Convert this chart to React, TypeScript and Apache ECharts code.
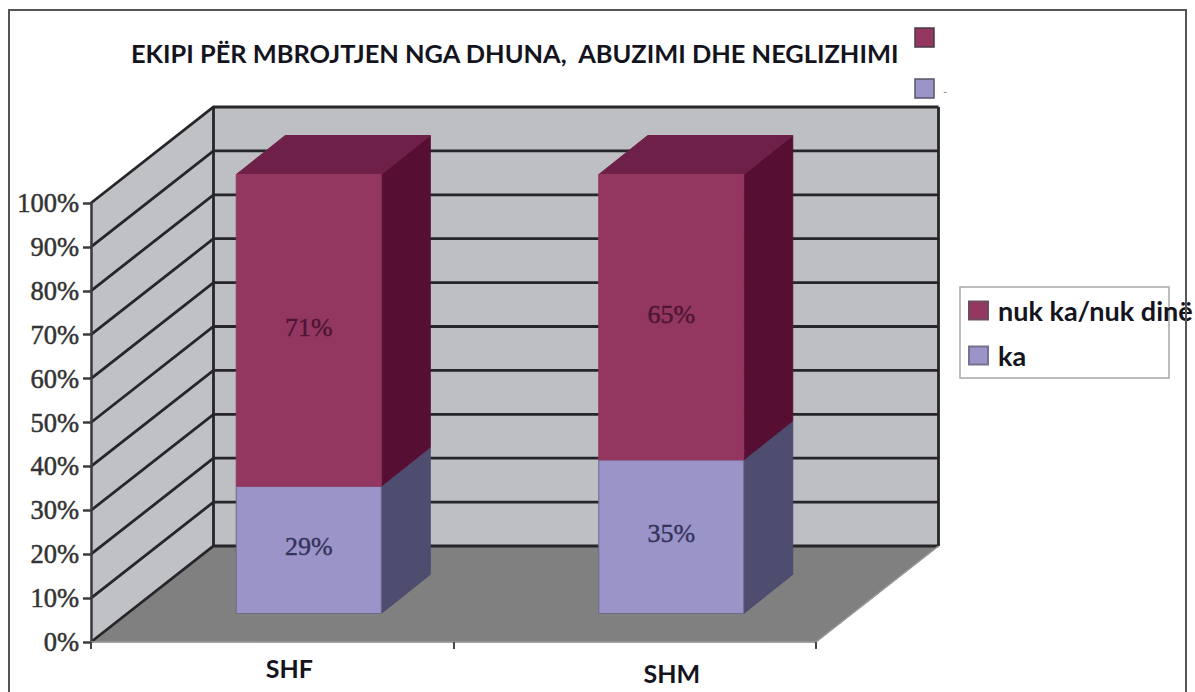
import React, { useEffect, useRef } from "react";
import * as echarts from "echarts";

const categories = ["SHF", "SHM"];
const kaValues = [29, 35];
const nukKaValues = [71, 65];
const yTicks = [0, 10, 20, 30, 40, 50, 60, 70, 80, 90, 100];
const titleText = "EKIPI PËR MBROJTJEN NGA DHUNA,  ABUZIMI DHE NEGLIZHIMI";
const seriesNames = ["nuk ka/nuk dinë", "ka"];

const WALL_DX = 122.5;
const WALL_DY = -96;
const BAR_SHIFT_X = 36.5;
const BAR_SHIFT_Y = -28.5;
const BAR_DX = 49;
const BAR_DY = -39;
const BAR_RATIO = 0.4;

const LINE = "#26262a";
const SERIF = "'Liberation Serif', serif";
const SANS = "Lato, sans-serif";

function poly(points: number[][], fill: string, stroke?: string) {
  return {
    type: "polygon",
    shape: { points },
    style: { fill, stroke: stroke || fill, lineWidth: 1 },
  };
}

function chromeItem(params: any, api: any) {
  const c = params.coordSys;
  const x0 = c.x;
  const x1 = c.x + c.width;
  const yBottom = c.y + c.height;
  const yTop = c.y;
  const children: any[] = [];
  children.push(
    poly(
      [
        [x0 + WALL_DX, yTop + WALL_DY],
        [x1 + WALL_DX, yTop + WALL_DY],
        [x1 + WALL_DX, yBottom + WALL_DY],
        [x0 + WALL_DX, yBottom + WALL_DY],
      ],
      "#bdbfc3"
    )
  );
  children.push(
    poly(
      [
        [x0, yTop],
        [x0 + WALL_DX, yTop + WALL_DY],
        [x0 + WALL_DX, yBottom + WALL_DY],
        [x0, yBottom],
      ],
      "#bfc1c5"
    )
  );
  children.push(
    poly(
      [
        [x0, yBottom],
        [x1, yBottom],
        [x1 + WALL_DX, yBottom + WALL_DY],
        [x0 + WALL_DX, yBottom + WALL_DY],
      ],
      "#808080"
    )
  );
  yTicks.forEach((t) => {
    const y = api.coord([categories[0], t])[1];
    children.push({
      type: "polyline",
      shape: {
        points: [
          [x0, y],
          [x0 + WALL_DX, y + WALL_DY],
          [x1 + WALL_DX, y + WALL_DY],
        ],
      },
      style: { fill: "none", stroke: LINE, lineWidth: 2.8 },
    });
  });
  children.push({
    type: "line",
    shape: { x1: x0 + WALL_DX, y1: yTop + WALL_DY, x2: x0 + WALL_DX, y2: yBottom + WALL_DY },
    style: { stroke: LINE, lineWidth: 2.8 },
  });
  children.push({
    type: "line",
    shape: { x1: x1 + WALL_DX, y1: yTop + WALL_DY, x2: x1 + WALL_DX, y2: yBottom + WALL_DY },
    style: { stroke: LINE, lineWidth: 2.8 },
  });
  children.push({
    type: "line",
    shape: { x1, y1: yBottom, x2: x1 + WALL_DX, y2: yBottom + WALL_DY },
    style: { stroke: "#9a9a9a", lineWidth: 1.5 },
  });
  return { type: "group", children };
}

function barRenderer(front: string, side: string, top: string | null, edge: string, textColor: string, labelLift: number) {
  return (_params: any, api: any) => {
    const cat = api.value(0);
    const base = api.value(1);
    const val = api.value(2);
    const center = api.coord([cat, 0])[0] + BAR_SHIFT_X;
    const w = api.size([1, 0])[0] * BAR_RATIO;
    const xl = center - w / 2;
    const xr = center + w / 2;
    const yb = api.coord([cat, base])[1] + BAR_SHIFT_Y;
    const yt = api.coord([cat, base + val])[1] + BAR_SHIFT_Y;
    const children: any[] = [
      poly(
        [
          [xr, yt],
          [xr + BAR_DX, yt + BAR_DY],
          [xr + BAR_DX, yb + BAR_DY],
          [xr, yb],
        ],
        side
      ),
    ];
    if (top) {
      children.push(
        poly(
          [
            [xl, yt],
            [xl + BAR_DX, yt + BAR_DY],
            [xr + BAR_DX, yt + BAR_DY],
            [xr, yt],
          ],
          top
        )
      );
    }
    children.push(
      poly(
        [
          [xl, yt],
          [xr, yt],
          [xr, yb],
          [xl, yb],
        ],
        front,
        edge
      )
    );
    children.push({
      type: "text",
      style: {
        x: center,
        y: (yt + yb) / 2 - labelLift,
        text: `${val}%`,
        align: "center",
        verticalAlign: "middle",
        font: `26px ${SERIF}`,
        fill: textColor,
        stroke: textColor,
        lineWidth: 0.4,
      },
    });
    return { type: "group", children };
  };
}

export default function App() {
  const ref = useRef<HTMLDivElement>(null);
  useEffect(() => {
    const chart = echarts.init(ref.current!, null, { renderer: "svg" });
    chart.setOption({
      animation: false,
      backgroundColor: "#ffffff",
      title: {
        text: titleText,
        left: 131,
        top: 40,
        padding: 0,
        textStyle: { fontFamily: SANS, fontWeight: "bold", fontSize: 25.4, color: "#14141e" },
      },
      legend: {
        show: true,
        left: 968,
        top: 297,
        padding: 0,
        orient: "vertical",
        itemWidth: 19,
        itemHeight: 18,
        itemGap: 18,
        data: seriesNames.map((name) => ({ name, icon: "rect" })),
        textStyle: { fontFamily: SANS, fontWeight: "bold", fontSize: 27, color: "#14141e", padding: [0, 0, 0, 5] },
      },
      grid: { left: 91, top: 203, width: 725, height: 439 },
      xAxis: {
        type: "category",
        data: categories,
        z: 10,
        axisLine: { show: true, lineStyle: { color: "#9a9a9a", width: 1.5 } },
        axisTick: { show: true, length: 7, lineStyle: { color: "#444", width: 2 } },
        axisLabel: {
          margin: 13,
          formatter: (v: string) => `{${v}|${v}}`,
          rich: {
            SHF: { padding: [0, 0, 0, 34], fontFamily: SANS, fontWeight: "bold", fontSize: 25, color: "#14141e" },
            SHM: { padding: [5, 0, 0, 74], fontFamily: SANS, fontWeight: "bold", fontSize: 25, color: "#14141e" },
          },
        },
      },
      yAxis: {
        type: "value",
        min: 0,
        max: 100,
        interval: 10,
        z: 10,
        axisLine: { show: true, lineStyle: { color: "#3a3a40", width: 2.5 } },
        axisTick: { show: true, length: 8, lineStyle: { color: "#3a3a40", width: 2.5 } },
        splitLine: { show: false },
        axisLabel: {
          margin: 12,
          formatter: "{value}%",
          fontFamily: SERIF,
          fontSize: 26.5,
          color: "#333",
          textBorderColor: "#333",
          textBorderWidth: 0.5,
        },
      },
      series: [
        {
          type: "custom",
          name: "walls",
          silent: true,
          z: 1,
          data: [[0, 0]],
          renderItem: chromeItem,
        },
        {
          type: "custom",
          name: seriesNames[1],
          z: 2,
          itemStyle: { color: "#9a94c8", borderColor: "#77728f", borderWidth: 1 },
          data: categories.map((c, i) => [i, 0, kaValues[i]]),
          encode: { x: 0, y: 2 },
          renderItem: barRenderer("#9a94c8", "#4e4d70", null, "#6d6a8a", "#33335a", 3),
        },
        {
          type: "custom",
          name: seriesNames[0],
          z: 3,
          itemStyle: { color: "#933660", borderColor: "#6e4a60", borderWidth: 1 },
          data: categories.map((c, i) => [i, kaValues[i], nukKaValues[i]]),
          encode: { x: 0, y: 2 },
          renderItem: barRenderer("#933660", "#560f33", "#6e2048", "#933660", "#4c1533", 3),
        },
      ],
      graphic: [
        {
          type: "rect",
          silent: true,
          z: 20,
          shape: { x: 9, y: 10, width: 1177, height: 700 },
          style: { fill: "none", stroke: "#555", lineWidth: 2 },
        },
        {
          type: "rect",
          silent: true,
          z: 1,
          shape: { x: 960, y: 287, width: 209, height: 91 },
          style: { fill: "#fff", stroke: "#a8a8a8", lineWidth: 1.5 },
        },
        {
          type: "rect",
          silent: true,
          shape: { x: 915, y: 28, width: 19, height: 19 },
          style: { fill: "#933660", stroke: "#4a3a44", lineWidth: 1.5 },
        },
        {
          type: "rect",
          silent: true,
          shape: { x: 915, y: 79, width: 19, height: 19 },
          style: { fill: "#9a94c8", stroke: "#55556a", lineWidth: 1.5 },
        },
        {
          type: "text",
          silent: true,
          style: { x: 943, y: 85, text: "-", font: `12px ${SANS}`, fill: "#888" },
        },
      ],
    });
    return () => chart.dispose();
  }, []);
  return (
    <div
      ref={ref}
      style={{ position: "fixed", left: 0, top: 0, width: 1195, height: 692, overflow: "hidden" }}
    />
  );
}
